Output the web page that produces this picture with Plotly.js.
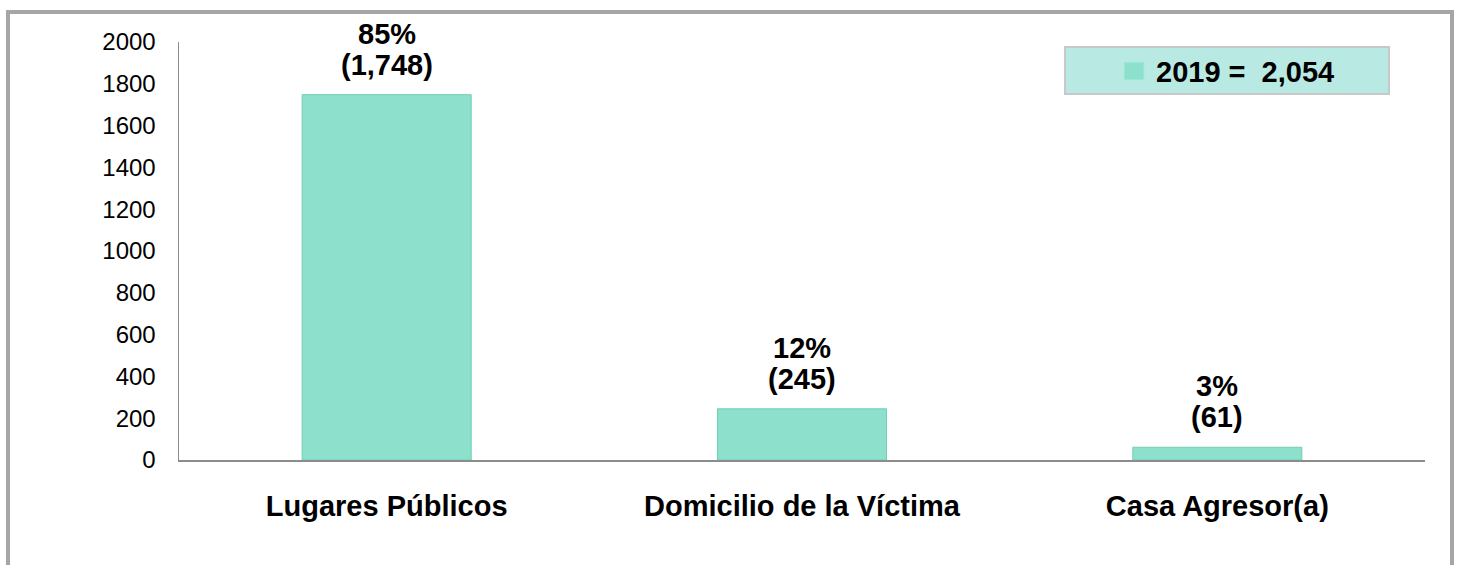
<!DOCTYPE html>
<html>
<head>
<meta charset="utf-8">
<script src="https://cdn.plot.ly/plotly-3.0.1.min.js"></script>
<style>
  html, body { margin: 0; padding: 0; background: #ffffff; }
  #wrap { position: relative; width: 1458px; height: 565px; overflow: hidden; }
  #chart { position: absolute; left: 0; top: 0; width: 1458px; height: 565px; }
  #frame { position: absolute; left: 6px; top: 10px; width: 1440px; height: 600px;
           border: 4px solid #a6a6a6; pointer-events: none; box-sizing: content-box; }
</style>
</head>
<body>
<div id="wrap">
  <div id="chart"></div>
  <div id="frame"></div>
</div>
<script>
// Data
var categories = ["Lugares Públicos", "Domicilio de la Víctima", "Casa Agresor(a)"];
var values = [1748, 245, 61];
var percents = ["85%", "12%", "3%"];
var countLabels = ["(1,748)", "(245)", "(61)"];
var yTicks = [0, 200, 400, 600, 800, 1000, 1200, 1400, 1600, 1800, 2000];
var legendLabel = "2019 =  2,054";

var FONT = "Arial, Liberation Sans, sans-serif";

var trace = {
  type: "bar",
  x: categories,
  y: values,
  name: legendLabel,
  marker: { color: "#8de0cb", line: { color: "#74cdb6", width: 1 } },
  hoverinfo: "x+y",
  showlegend: false
};

var annotations = [];
categories.forEach(function (c, i) {
  annotations.push({
    x: c, y: values[i], xref: "x", yref: "y",
    text: "<b>" + countLabels[i] + "</b>",
    showarrow: false, yanchor: "bottom", yshift: 12,
    font: { family: FONT, size: 29, color: "#000000" }
  });
  annotations.push({
    x: c, y: values[i], xref: "x", yref: "y",
    text: "<b>" + percents[i] + "</b>",
    showarrow: false, yanchor: "bottom", yshift: 43,
    font: { family: FONT, size: 29, color: "#000000" }
  });
});

annotations.push({
  x: 0.7829, y: 0.928, xref: "paper", yref: "paper",
  xanchor: "left", yanchor: "middle", showarrow: false,
  text: "<b>" + legendLabel + "</b>",
  font: { family: FONT, size: 29, color: "#000000" }
});

var layout = {
  width: 1458, height: 565,
  margin: { l: 179, r: 33, t: 42, b: 105 },
  paper_bgcolor: "#ffffff",
  plot_bgcolor: "#ffffff",
  bargap: 0.593,
  font: { family: FONT, color: "#000000" },
  xaxis: {
    showline: true, linecolor: "#8c8c8c", linewidth: 1.5,
    showgrid: false, zeroline: false,
    ticks: "", ticklabelstandoff: 20,
    tickfont: { size: 29, family: FONT, color: "#000000", weight: "bold" }
  },
  yaxis: {
    range: [0, 2000],
    tickvals: yTicks, ticktext: yTicks.map(String),
    showline: true, linecolor: "#8c8c8c", linewidth: 1.5,
    showgrid: false, zeroline: false,
    ticks: "", ticklabelstandoff: 17,
    tickfont: { size: 24, family: FONT, color: "#000000" }
  },
  shapes: [
    { type: "rect", xref: "paper", yref: "paper", x0: 0.7111, x1: 0.9711, y0: 0.8756, y1: 0.988,
      fillcolor: "#b8eae3", line: { color: "#c8c8c8", width: 2 }, layer: "above" },
    { type: "rect", xref: "paper", yref: "paper", x0: 0.7584, x1: 0.7745, y0: 0.909, y1: 0.952,
      fillcolor: "#8de0cb", line: { color: "#a9ece0", width: 1 }, layer: "above" }
  ],
  annotations: annotations,
  showlegend: false
};

Plotly.newPlot("chart", [trace], layout, { displayModeBar: false, staticPlot: true });
</script>
</body>
</html>
